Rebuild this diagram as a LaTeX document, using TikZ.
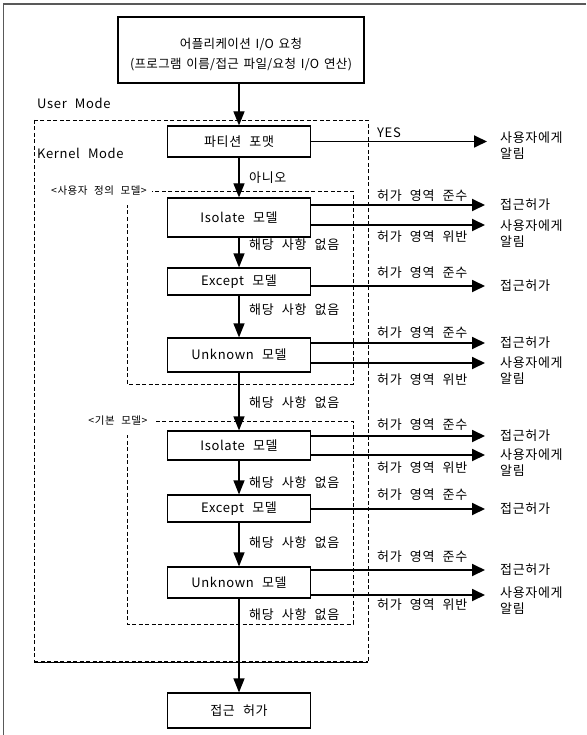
\documentclass[tikz,border=0pt]{standalone}
\usepackage{fontspec}
\setmainfont{Noto Sans CJK KR}[WordSpace=2.3, LetterSpace=5]
\newfontfamily\topfont{Noto Sans CJK KR}[WordSpace=1.5, LetterSpace=3]
\usetikzlibrary{arrows.meta}
\newcommand\fA{\fontsize{13}{16}\selectfont}
\newcommand\fB{\topfont\fontsize{12.5}{20}\selectfont}
\newcommand\fC{\fontsize{10.5}{13}\selectfont}
\begin{document}
\begin{tikzpicture}[x=1pt,y=-1pt,
  box/.style={draw, line width=1.2pt, minimum width=143pt, inner sep=2pt, align=center, font=\fA},
  darrow/.style={-{Triangle[length=14pt,width=11pt]}, line width=1.2pt},
  rarrow/.style={-{Triangle[length=13pt,width=12pt]}, line width=1.8pt},
  dbox/.style={draw, dash pattern=on 4pt off 2.5pt, line width=0.9pt},
  lab/.style={anchor=west, inner sep=3pt, font=\fA},
  res/.style={anchor=west, inner xsep=15pt, inner ysep=0pt, font=\fA, align=left},
  grp/.style={fill=white, inner xsep=5pt, inner ysep=9pt, font=\fC}]
\useasboundingbox (0,0) rectangle (586,735);
\draw[line width=1.5pt, black!65] (586,4) -- (3.5,4) -- (3.5,735);

% user / kernel mode region
\draw[dbox] (34,120) rectangle (368,662);
\draw[dbox, line width=1.8pt] (34,662) -- (368,662);
\node[lab] (um) at (34,103) {User Mode};
\node[lab] (km) at (34,153) {Kernel Mode};

% model groups
\draw[dbox] (127,191) rectangle (353,384);
\node[grp] (g1) at (99,191) {<사용자 정의 모델>};
\draw[dbox] (127,421) rectangle (353,624);
\node[grp] (g2) at (118,421) {<기본 모델>};

% boxes
\node[box, minimum width=246pt, minimum height=66pt, font=\fB] (app) at (241,50) {\rule{0pt}{19pt}어플리케이션 I/O 요청\\(프로그램 이름/접근 파일/요청 I/O 연산)};
\node[box, minimum height=31pt] (part) at (239,141.5) {파티션 포맷};
\node[box, minimum height=39pt] (iso1) at (239,217.5) {Isolate 모델};
\node[box, minimum height=27pt] (exc1) at (239,281.5) {Except 모델};
\node[box, minimum height=34pt] (unk1) at (239,355) {Unknown 모델};
\node[box, minimum height=29pt] (iso2) at (239,445.5) {Isolate 모델};
\node[box, minimum height=27pt] (exc2) at (239,508.5) {Except 모델};
\node[box, minimum height=31pt] (unk2) at (239,582.5) {Unknown 모델};
\node[box, minimum height=35pt] (fin) at (239,710.5) {접근 허가};

% down arrows
\draw[darrow] (app.south -| part.north) -- (part.north);
\draw[darrow] (part.south) -- (iso1.north);
\draw[darrow] (iso1.south) -- (exc1.north);
\draw[darrow] (exc1.south) -- (unk1.north);
\draw[darrow] (unk1.south) -- (iso2.north);
\draw[darrow] (iso2.south) -- (exc2.north);
\draw[darrow] (exc2.south) -- (unk2.north);
\draw[darrow] (unk2.south) -- (fin.north);

\node[lab] (no) at (246,178) {아니오};
\node[lab] (n1) at (246,245) {해당 사항 없음};
\node[lab] (n2) at (246,310) {해당 사항 없음};
\node[lab] (n3) at (246,403) {해당 사항 없음};
\node[lab] (n4) at (246,483) {해당 사항 없음};
\node[lab] (n5) at (246,543) {해당 사항 없음};
\node[lab] (n6) at (246,615) {해당 사항 없음};

% partition -> YES
\node[lab] (yes) at (374,133) {YES};
\node[res, anchor=north west] (r0) at (485,132) {사용자에게\\알림};
\coordinate (t0) at (487,141.5);
\draw[rarrow] (part.east) -- (t0);

% isolate 1
\node[lab] (l1a) at (374,196) {허가 영역 준수};
\node[lab] (l1b) at (374,237) {허가 영역 위반};
\node[res] (r1a) at (485,205) {접근허가};
\draw[rarrow] (iso1.east |- r1a.west) -- (r1a.west);
\node[res, anchor=north west] (r1b) at (485,220) {사용자에게\\알림};
\coordinate (t1) at (485,225);
\draw[rarrow] (iso1.east |- t1) -- (t1);

% except 1
\node[lab] (l2a) at (374,273) {허가 영역 준수};
\node[res] (r2a) at (485,286) {접근허가};
\draw[rarrow] (exc1.east |- r2a.west) -- (r2a.west);

% unknown 1
\node[lab] (l3a) at (374,333) {허가 영역 준수};
\node[lab] (l3b) at (374,380) {허가 영역 위반};
\node[res] (r3a) at (485,343) {접근허가};
\draw[rarrow] (unk1.east |- r3a.west) -- (r3a.west);
\node[res, anchor=north west] (r3b) at (485,357) {사용자에게\\알림};
\coordinate (t3) at (485,363);
\draw[rarrow] (unk1.east |- t3) -- (t3);

% isolate 2
\node[lab] (l4a) at (374,425) {허가 영역 준수};
\node[lab] (l4b) at (374,468) {허가 영역 위반};
\node[res] (r4a) at (485,436) {접근허가};
\draw[rarrow] (iso2.east |- r4a.west) -- (r4a.west);
\node[res, anchor=north west] (r4b) at (485,449) {사용자에게\\알림};
\coordinate (t4) at (485,455);
\draw[rarrow] (iso2.east |- t4) -- (t4);

% except 2
\node[lab] (l5a) at (374,495) {허가 영역 준수};
\node[res] (r5a) at (485,509) {접근허가};
\draw[rarrow] (exc2.east |- r5a.west) -- (r5a.west);

% unknown 2
\node[lab] (l6a) at (374,557) {허가 영역 준수};
\node[lab] (l6b) at (374,605) {허가 영역 위반};
\node[res] (r6a) at (485,570) {접근허가};
\draw[rarrow] (unk2.east |- r6a.west) -- (r6a.west);
\node[res, anchor=north west] (r6b) at (485,587) {사용자에게\\알림};
\coordinate (t6) at (485,595);
\draw[rarrow] (unk2.east |- t6) -- (t6);
\end{tikzpicture}
\end{document}
